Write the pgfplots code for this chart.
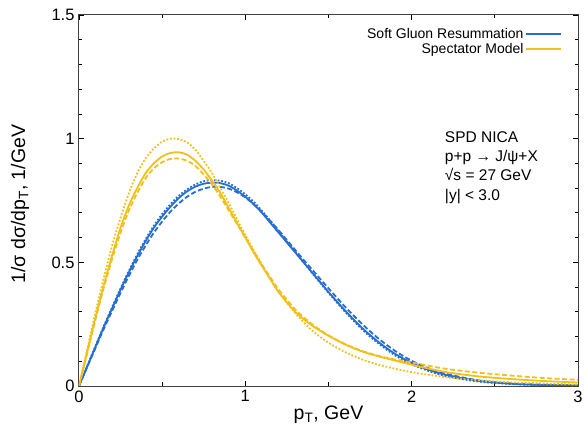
\documentclass[border=0pt]{standalone}
\usepackage{pgfplots}
\pgfplotsset{compat=1.18}
\usepackage{fontspec}
\setmainfont{Liberation Sans}
\definecolor{sgblue}{RGB}{38,110,208}
\definecolor{smyellow}{RGB}{240,192,28}
\begin{document}
\begin{tikzpicture}
\path[use as bounding box] (-79bp,-46bp) rectangle (506bp,386bp);
\begin{axis}[
  at={(0,0)}, anchor=south west,
  scale only axis, width=499bp, height=371bp,
  xmin=0, xmax=3, ymin=0, ymax=1.5,
  xtick={0,1,2,3}, ytick={0,0.5,1,1.5},
  yticklabels={0,0.5,1,1.5},
  minor x tick num=1, minor y tick num=4,
  major tick length=5bp, minor tick length=3.5bp,
  tick style={black, line width=0.8bp},
  axis line style={black!75, line width=1bp},
  /pgf/number format/assume math mode=true,
  ticklabel style={font=\fontsize{16.5bp}{19bp}\selectfont},
  xticklabel style={yshift=-1bp},
  yticklabel style={xshift=-1bp},
  label style={font=\fontsize{19.5bp}{23bp}\selectfont},
  xlabel={p\textsubscript{T}, GeV},
  ylabel={1/σ dσ/dp\textsubscript{T}, 1/GeV},
  x label style={at={(axis description cs:0.5,-0.078)}, anchor=center},
  y label style={at={(axis description cs:-0.118,0.49)}, anchor=center},
  legend plot pos=right,
  legend cell align=right,
  legend image code/.code={\draw[#1, line width=1.8bp] (0bp,0bp) -- (35bp,0bp);},
  legend style={draw=none, fill=none, at={(rel axis cs:0.975,0.975)}, anchor=north east,
    font=\fontsize{14bp}{16bp}\selectfont, row sep=-1bp},
  every axis plot/.append style={line width=1.8bp},
]
\addlegendimage{sgblue}
\addlegendentry{Soft Gluon Resummation}
\addlegendimage{smyellow}
\addlegendentry{Spectator Model}

% Soft gluon resummation, solid
\addplot[sgblue, smooth, forget plot] table[row sep=\\] {
x y\\
0 0\\ 0.05 0.08\\ 0.1 0.16\\ 0.15 0.24\\ 0.2 0.315\\ 0.25 0.39\\ 0.3 0.46\\ 0.35 0.525\\
0.4 0.585\\ 0.45 0.64\\ 0.5 0.685\\ 0.55 0.725\\ 0.6 0.76\\ 0.65 0.787\\ 0.7 0.806\\
0.75 0.818\\ 0.8 0.822\\ 0.85 0.82\\ 0.9 0.81\\ 0.95 0.79\\ 1.0 0.765\\ 1.05 0.735\\
1.1 0.70\\ 1.15 0.66\\ 1.2 0.62\\ 1.25 0.58\\ 1.3 0.54\\ 1.35 0.50\\ 1.4 0.46\\
1.45 0.42\\ 1.5 0.38\\ 1.6 0.305\\ 1.7 0.236\\ 1.8 0.178\\ 1.9 0.13\\ 2.0 0.094\\
2.1 0.066\\ 2.2 0.046\\ 2.4 0.021\\ 2.6 0.009\\ 2.8 0.004\\ 3.0 0.002\\
};
% Soft gluon resummation, dashed
\addplot[sgblue, smooth, forget plot, dash pattern=on 5bp off 2.5bp] table[row sep=\\] {
x y\\
0 0\\ 0.05 0.078\\ 0.1 0.155\\ 0.15 0.232\\ 0.2 0.305\\ 0.25 0.377\\ 0.3 0.445\\ 0.35 0.51\\
0.4 0.567\\ 0.45 0.62\\ 0.5 0.665\\ 0.55 0.705\\ 0.6 0.738\\ 0.65 0.765\\ 0.7 0.785\\
0.75 0.798\\ 0.8 0.805\\ 0.85 0.805\\ 0.9 0.798\\ 0.95 0.783\\ 1.0 0.762\\ 1.05 0.735\\
1.1 0.703\\ 1.15 0.667\\ 1.2 0.63\\ 1.25 0.59\\ 1.3 0.55\\ 1.35 0.51\\ 1.4 0.472\\
1.45 0.433\\ 1.5 0.395\\ 1.6 0.32\\ 1.7 0.252\\ 1.8 0.192\\ 1.9 0.142\\ 2.0 0.102\\
2.1 0.072\\ 2.2 0.05\\ 2.4 0.023\\ 2.6 0.01\\ 2.8 0.005\\ 3.0 0.002\\
};
% Soft gluon resummation, dotted
\addplot[sgblue, smooth, forget plot, dash pattern=on 1.8bp off 1.8bp] table[row sep=\\] {
x y\\
0 0\\ 0.05 0.082\\ 0.1 0.163\\ 0.15 0.244\\ 0.2 0.32\\ 0.25 0.395\\ 0.3 0.466\\ 0.35 0.532\\
0.4 0.593\\ 0.45 0.648\\ 0.5 0.695\\ 0.55 0.735\\ 0.6 0.769\\ 0.65 0.795\\ 0.7 0.815\\
0.75 0.828\\ 0.8 0.832\\ 0.85 0.83\\ 0.9 0.82\\ 0.95 0.80\\ 1.0 0.775\\ 1.05 0.745\\
1.1 0.708\\ 1.15 0.668\\ 1.2 0.626\\ 1.25 0.584\\ 1.3 0.542\\ 1.35 0.50\\ 1.4 0.458\\
1.45 0.417\\ 1.5 0.377\\ 1.6 0.30\\ 1.7 0.23\\ 1.8 0.172\\ 1.9 0.124\\ 2.0 0.088\\
2.1 0.061\\ 2.2 0.041\\ 2.4 0.018\\ 2.6 0.008\\ 2.8 0.003\\ 3.0 0.001\\
};
% Spectator model, solid
\addplot[smyellow, smooth, forget plot] table[row sep=\\] {
x y\\
0 0\\ 0.05 0.14\\ 0.1 0.28\\ 0.15 0.41\\ 0.2 0.53\\ 0.25 0.64\\ 0.3 0.73\\ 0.35 0.80\\
0.4 0.86\\ 0.45 0.90\\ 0.5 0.928\\ 0.55 0.942\\ 0.6 0.945\\ 0.65 0.935\\ 0.7 0.91\\
0.75 0.875\\ 0.8 0.83\\ 0.85 0.78\\ 0.9 0.72\\ 0.95 0.66\\ 1.0 0.60\\ 1.05 0.54\\
1.1 0.485\\ 1.15 0.432\\ 1.2 0.38\\ 1.3 0.30\\ 1.4 0.245\\ 1.5 0.203\\ 1.6 0.168\\
1.7 0.14\\ 1.8 0.12\\ 1.9 0.103\\ 2.0 0.086\\ 2.2 0.057\\ 2.4 0.039\\ 2.6 0.028\\
2.8 0.02\\ 3.0 0.014\\
};
% Spectator model, dashed
\addplot[smyellow, smooth, forget plot, dash pattern=on 5bp off 2.5bp] table[row sep=\\] {
x y\\
0 0\\ 0.05 0.135\\ 0.1 0.27\\ 0.15 0.40\\ 0.2 0.515\\ 0.25 0.62\\ 0.3 0.71\\ 0.35 0.78\\
0.4 0.84\\ 0.45 0.88\\ 0.5 0.905\\ 0.55 0.918\\ 0.6 0.92\\ 0.65 0.91\\ 0.7 0.89\\
0.75 0.855\\ 0.8 0.815\\ 0.85 0.765\\ 0.9 0.71\\ 0.95 0.655\\ 1.0 0.60\\ 1.05 0.545\\
1.1 0.49\\ 1.15 0.44\\ 1.2 0.39\\ 1.3 0.31\\ 1.4 0.25\\ 1.5 0.205\\ 1.6 0.17\\
1.7 0.142\\ 1.8 0.122\\ 1.9 0.107\\ 2.0 0.095\\ 2.2 0.07\\ 2.4 0.054\\ 2.6 0.042\\
2.8 0.032\\ 3.0 0.025\\
};
% Spectator model, dotted
\addplot[smyellow, smooth, forget plot, dash pattern=on 1.8bp off 1.8bp] table[row sep=\\] {
x y\\
0 0\\ 0.05 0.15\\ 0.1 0.30\\ 0.15 0.44\\ 0.2 0.57\\ 0.25 0.68\\ 0.3 0.78\\ 0.35 0.86\\
0.4 0.92\\ 0.45 0.96\\ 0.5 0.988\\ 0.55 1.0\\ 0.6 0.998\\ 0.65 0.985\\ 0.7 0.955\\
0.75 0.91\\ 0.8 0.86\\ 0.85 0.80\\ 0.9 0.74\\ 0.95 0.675\\ 1.0 0.61\\ 1.05 0.55\\
1.1 0.49\\ 1.15 0.433\\ 1.2 0.38\\ 1.3 0.295\\ 1.4 0.225\\ 1.5 0.175\\ 1.6 0.137\\
1.7 0.108\\ 1.8 0.086\\ 1.9 0.07\\ 2.0 0.056\\ 2.2 0.036\\ 2.4 0.023\\ 2.6 0.015\\
2.8 0.01\\ 3.0 0.006\\
};

\node[anchor=base west, font=\fontsize{15.5bp}{18bp}\selectfont, inner sep=0pt] at (rel axis cs:0.733,0.655) {SPD NICA};
\node[anchor=base west, font=\fontsize{15.5bp}{18bp}\selectfont, inner sep=0pt] at (rel axis cs:0.733,0.604) {p+p → J/ψ+X};
\node[anchor=base west, font=\fontsize{15.5bp}{18bp}\selectfont, inner sep=0pt] at (rel axis cs:0.733,0.5526) {√s = 27 GeV};
\node[anchor=base west, font=\fontsize{15.5bp}{18bp}\selectfont, inner sep=0pt] at (rel axis cs:0.733,0.5013) {|y| < 3.0};
\end{axis}
\end{tikzpicture}
\end{document}
